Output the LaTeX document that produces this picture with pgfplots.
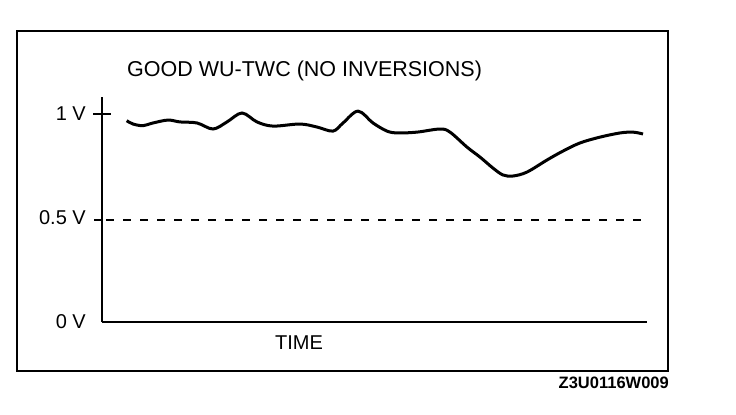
\documentclass[border=0pt]{standalone}
\usepackage{fontspec}
\setmainfont{Liberation Sans}
\usepackage{pgfplots}
\pgfplotsset{compat=1.18}
\begin{document}
\begin{tikzpicture}[x=1bp,y=1bp]
\path (0,0) rectangle (736,414);
\draw[line width=2bp] (17,43) rectangle (668,383);
\begin{axis}[
  at={(102bp,92bp)}, anchor=origin,
  scale only axis, width=545bp, height=224.6bp,
  xmin=0, xmax=545, ymin=0, ymax=1.08,
  axis x line=bottom, axis y line=left,
  axis line style={-, line width=2.2bp},
  xtick=\empty,
  ytick={0,0.5,1}, yticklabels={0 V,0.5 V,1 V},
  major tick length=0pt,
  yticklabel style={font=\fontsize{20bp}{22bp}\selectfont, anchor=east, inner sep=0pt},
  yticklabel shift=16bp,
  every axis title shift=0pt,
  title={GOOD WU-TWC (NO INVERSIONS)},
  title style={at={(axis description cs:0.0459,1.091)}, anchor=base west, inner sep=0pt, font=\fontsize{21.5bp}{24bp}\selectfont},
  xlabel={TIME},
  xlabel style={at={(axis description cs:0.3615,0)}, anchor=base, yshift=-27bp, inner sep=0pt, font=\fontsize{20bp}{22bp}\selectfont},
  clip=false,
]
\addplot[black, dash pattern=on 8bp off 9bp, line width=1.5bp] coordinates {(4,0.49) (545,0.49)};
\addplot[black, smooth, tension=0.55, line width=3bp] coordinates {
(24.7,0.968) (31,0.952) (41,0.944) (51,0.957) (66,0.971) (78,0.962) (95,0.957)
(111,0.928) (125,0.962) (140,1.005) (155,0.962) (171,0.942) (198,0.952)
(215,0.9375) (231,0.918) (241,0.957) (256,1.014) (271,0.957) (285,0.918)
(296,0.909) (315,0.913) (338,0.928) (348,0.913) (365,0.841) (378,0.793)
(391,0.740) (401,0.707) (411,0.702) (425,0.721) (445,0.779) (461,0.822)
(478,0.861) (498,0.889) (518,0.909) (531,0.913) (541,0.904)
};
\draw[line width=2bp] (axis cs:0,1) ++(-9bp,0) -- ++(18bp,0);
\draw[line width=2bp] (axis cs:0,0.49) ++(-8bp,0) -- ++(8bp,0);
\end{axis}
\node[anchor=base east, inner sep=0pt, font=\fontsize{16.5bp}{18bp}\selectfont\bfseries] at (669,26) {Z3U0116W009};
\end{tikzpicture}
\end{document}
